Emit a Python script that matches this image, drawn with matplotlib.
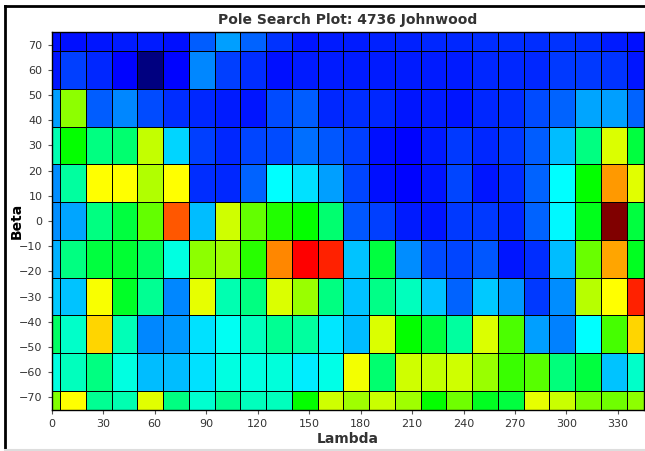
import numpy as np
import matplotlib
matplotlib.use("Agg")
import matplotlib.pyplot as plt
from matplotlib.colors import LinearSegmentedColormap
from matplotlib.lines import Line2D

# cell edges (degrees)
lambda_edges = [0, 5, 20, 35, 50, 65, 80, 95, 110, 125, 140, 155, 170, 185,
                200, 215, 230, 245, 260, 275, 290, 305, 320, 335, 345]
beta_edges = [-75, -67.5, -52.5, -37.5, -22.5, -7.5, 7.5, 22.5, 37.5, 52.5, 67.5, 75]

# relative search intensity, rows from beta -75 (bottom) to 75 (top)
row_m75 = [3.50, 4.00, 2.43, 2.30, 3.88, 2.50, 2.18, 2.43, 2.25, 2.25, 3.00, 3.80,
           3.63, 3.78, 3.63, 3.00, 3.44, 2.87, 2.75, 3.90, 3.78, 3.47, 3.44, 3.56]
row_m60 = [2.12, 2.25, 2.50, 2.12, 1.75, 1.75, 1.88, 2.12, 2.12, 2.15, 1.94, 2.10,
           3.94, 2.56, 3.80, 3.75, 3.80, 3.60, 3.22, 3.35, 2.53, 2.75, 1.78, 2.22]
row_m45 = [2.62, 2.22, 4.15, 2.28, 1.53, 1.60, 1.88, 2.06, 2.25, 2.43, 2.37, 1.91,
           1.75, 3.85, 3.00, 2.75, 2.37, 3.85, 3.30, 1.63, 1.50, 2.00, 3.28, 4.15]
row_m30 = [1.80, 1.78, 3.97, 2.85, 2.43, 1.53, 3.90, 2.30, 2.50, 3.85, 3.60, 2.50,
           1.78, 2.47, 2.25, 1.78, 1.40, 1.80, 1.60, 1.22, 1.56, 3.72, 4.00, 4.87]
row_m15 = [1.70, 2.50, 2.75, 2.80, 2.62, 2.12, 3.56, 3.63, 3.15, 4.47, 5.00, 4.87,
           1.78, 2.75, 1.56, 1.30, 1.28, 1.35, 1.10, 1.18, 1.75, 3.40, 4.34, 2.87]
row_0 = [1.56, 1.66, 2.50, 2.75, 3.38, 4.65, 1.75, 3.80, 3.38, 3.12, 3.00, 2.56,
         1.35, 1.25, 1.12, 1.10, 1.22, 1.22, 1.15, 1.40, 1.97, 2.90, 6.00, 2.75]
row_15 = [1.56, 2.37, 4.00, 4.00, 3.69, 4.00, 1.18, 1.15, 1.40, 2.00, 1.88, 1.63,
          1.28, 1.06, 1.03, 1.10, 1.28, 1.10, 1.18, 1.40, 2.00, 3.00, 4.40, 3.88]
row_30 = [2.30, 3.00, 2.50, 2.56, 3.75, 1.85, 1.25, 1.15, 1.28, 1.30, 1.44, 1.35,
          1.25, 1.06, 1.03, 1.12, 1.22, 1.15, 1.22, 1.38, 1.75, 2.50, 3.85, 2.75]
row_45 = [1.63, 3.56, 1.38, 1.53, 1.31, 1.18, 1.15, 1.12, 1.08, 1.30, 1.37, 1.15,
          1.18, 1.15, 1.10, 1.12, 1.10, 1.15, 1.18, 1.30, 1.40, 1.66, 1.63, 1.40]
row_60 = [1.10, 1.25, 1.15, 1.03, 0.00, 1.03, 1.53, 1.25, 1.18, 1.06, 1.12, 1.12,
          1.12, 1.12, 1.12, 1.12, 1.12, 1.15, 1.15, 1.15, 1.22, 1.23, 1.20, 1.10]
row_75 = [1.07, 1.06, 1.10, 1.12, 1.12, 1.07, 1.38, 1.63, 1.40, 1.20, 1.10, 1.12,
          1.12, 1.14, 1.14, 1.15, 1.15, 1.18, 1.18, 1.18, 1.20, 1.18, 1.12, 1.06]

x_ticks = list(range(0, 331, 30))
y_ticks = list(range(-70, 71, 10))

values = np.array([row_m75, row_m60, row_m45, row_m30, row_m15, row_0,
                   row_15, row_30, row_45, row_60, row_75])

cmap = LinearSegmentedColormap.from_list(
    "pole", ["#000080", "#0000ff", "#00ffff", "#00ff00",
             "#ffff00", "#ff0000", "#800000"])

fig = plt.figure(figsize=(6.45, 4.51), dpi=100)
ax = fig.add_axes([0.080, 0.091, 0.918, 0.838])

ax.pcolormesh(lambda_edges, beta_edges, values, cmap=cmap, vmin=0, vmax=6,
              edgecolors="black", linewidth=0.7)

ax.set_xlim(0, 345)
ax.set_ylim(-75, 75)
ax.set_xticks(x_ticks)
ax.set_yticks(y_ticks)
ax.tick_params(labelsize=8, colors="#555555", length=3, width=0.8)
for lab in ax.get_xticklabels() + ax.get_yticklabels():
    lab.set_color("#333333")
for sp in ax.spines.values():
    sp.set_color("black")
    sp.set_linewidth(1.0)

ax.set_title("Pole Search Plot: 4736 Johnwood", fontsize=10, fontweight="bold",
             color="#333333", pad=6)
ax.set_xlabel("Lambda", fontsize=10, fontweight="bold", color="#333333", labelpad=2)
ax.set_ylabel("Beta", fontsize=10, fontweight="bold", color="black")
ax.yaxis.set_label_coords(-0.047, 0.5)

# outer frame of the panel: dark left and top edges, light bottom edge
fig.add_artist(Line2D([4.5 / 645, 4.5 / 645], [0.0, 1 - 5.5 / 451],
                      transform=fig.transFigure, color="black", linewidth=2))
fig.add_artist(Line2D([4.5 / 645, 1.0], [1 - 5.5 / 451, 1 - 5.5 / 451],
                      transform=fig.transFigure, color="black", linewidth=2))
fig.add_artist(Line2D([4.5 / 645, 1.0], [1.5 / 451, 1.5 / 451],
                      transform=fig.transFigure, color="#dddddd", linewidth=1.5))

fig.savefig("out.png", dpi=100)
